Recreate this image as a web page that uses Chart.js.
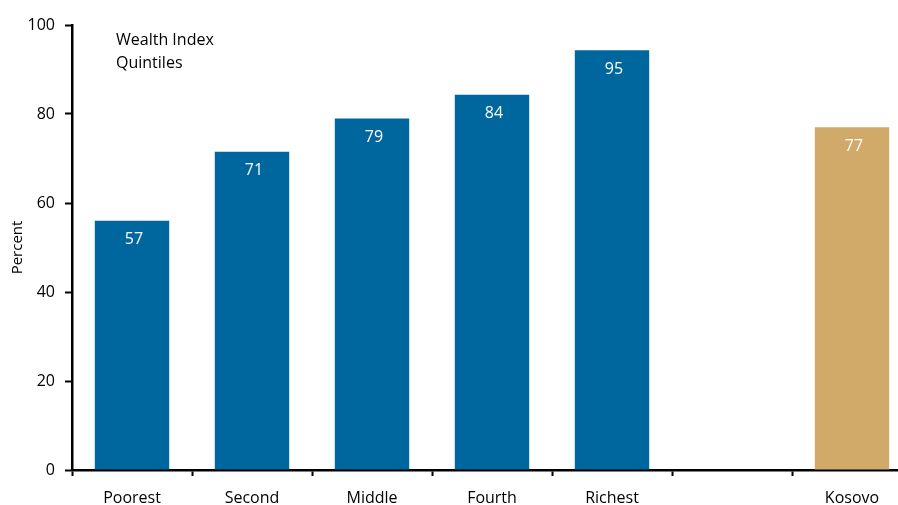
<!DOCTYPE html>
<html>
<head>
<meta charset="utf-8">
<script src="https://cdn.jsdelivr.net/npm/chart.js@4"></script>
<style>
  html, body { margin: 0; padding: 0; background: #fff; overflow: hidden; }
  #wrap { width: 912px; height: 505px; }
</style>
</head>
<body>
<div id="wrap"><canvas id="myChart"></canvas></div>
<script>
const categories = ['Poorest', 'Second', 'Middle', 'Fourth', 'Richest', '', 'Kosovo'];
const values = [56, 71.5, 79, 84.3, 94.3, null, 77];
const valueLabels = ['57', '71', '79', '84', '95', '', '77'];
const barColors = ['#00669e', '#00669e', '#00669e', '#00669e', '#00669e', '#00669e', '#d1aa69'];
const yTicks = [0, 20, 40, 60, 80, 100];

const FONT = '"Open Sans", "Noto Sans", sans-serif';

// white numbers inside the bars + the "Wealth Index Quintiles" note
const labelsPlugin = {
  id: 'labels',
  afterDatasetsDraw(chart) {
    const ctx = chart.ctx;
    const meta = chart.getDatasetMeta(0);
    ctx.save();
    ctx.font = '16px ' + FONT;
    ctx.fillStyle = '#fff';
    ctx.textAlign = 'center';
    ctx.textBaseline = 'middle';
    meta.data.forEach((bar, i) => {
      if (values[i] == null) return;
      ctx.fillText(valueLabels[i], bar.x + 2, bar.y + 19);
    });
    ctx.fillStyle = '#000';
    ctx.textAlign = 'left';
    ctx.fillText('Wealth Index', 116, 40);
    ctx.fillText('Quintiles', 116, 63);
    ctx.restore();
  }
};

const ctx = document.getElementById('myChart');

const data = {
  labels: categories,
  datasets: [{
    data: values,
    backgroundColor: barColors,
    categoryPercentage: 1,
    barPercentage: 0.62
  }]
};

const config = {
  type: 'bar',
  data: data,
  options: {
    responsive: true,
    maintainAspectRatio: false,
    animation: false,
    layout: { padding: { top: 25, left: 0, right: 0, bottom: 0 } },
    plugins: {
      legend: { display: false },
      tooltip: { enabled: false }
    },
    scales: {
      x: {
        grid: {
          offset: true,
          drawOnChartArea: false,
          drawTicks: true,
          tickLength: 6,
          tickWidth: 2,
          tickColor: '#000'
        },
        border: { display: true, color: '#000', width: 2.5 },
        ticks: { color: '#000', font: { family: FONT, size: 16 }, padding: 13, maxRotation: 0 },
        afterFit(scale) { scale.height = 35; }
      },
      y: {
        min: 0,
        max: 100,
        afterBuildTicks(scale) { scale.ticks = yTicks.map(v => ({ value: v })); },
        grid: {
          drawOnChartArea: false,
          drawTicks: true,
          tickLength: 7,
          tickWidth: 2,
          tickColor: '#000'
        },
        border: { display: true, color: '#000', width: 2.5 },
        ticks: { color: '#000', font: { family: FONT, size: 16 }, padding: 10 },
        title: { display: true, text: 'Percent', color: '#000', font: { family: FONT, size: 15 }, padding: { top: 9, bottom: 0 } },
        afterFit(scale) { scale.width = 72; }
      }
    }
  },
  plugins: [labelsPlugin]
};

const myChart = new Chart(ctx, config);
</script>
</body>
</html>
